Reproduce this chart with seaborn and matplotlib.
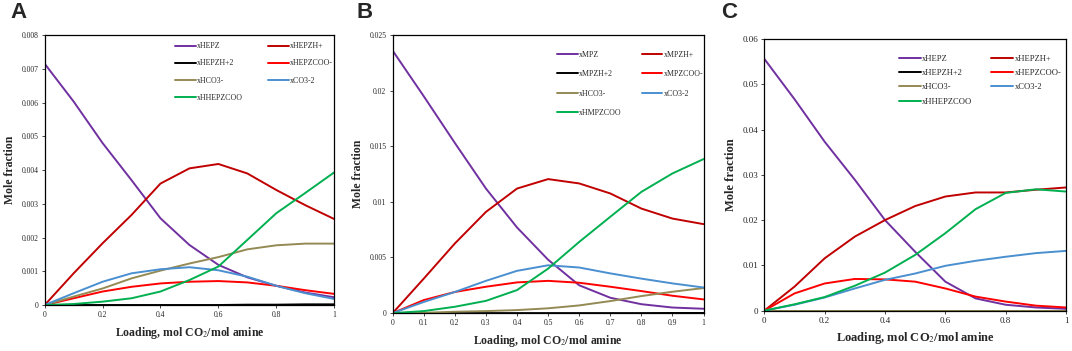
import numpy as np
import pandas as pd
import matplotlib.pyplot as plt
import seaborn as sns

# loading, mol CO2 / mol amine
loading = [0.0, 0.1, 0.2, 0.3, 0.4, 0.5, 0.6, 0.7, 0.8, 0.9, 1.0]

# Panel A (HEPZ)
a_labels = ['xHEPZ', 'xHEPZH+', 'xHEPZH+2', 'xHEPZCOO-', 'xHCO3-', 'xCO3-2', 'xHHEPZCOO']
a_amine = [0.00715, 0.00603, 0.0048, 0.0037, 0.00257, 0.00178, 0.00119, 0.00082, 0.00057, 0.00037, 0.00023]
a_amineh = [0.0, 0.00094, 0.00183, 0.00267, 0.0036, 0.00405, 0.00418, 0.0039, 0.00341, 0.00296, 0.00255]
a_amineh2 = [0.0, 0.0, 0.0, 0.0, 0.0, 0.0, 0.0, 0.00001, 0.00001, 0.00002, 0.00002]
a_carb = [0.0, 0.0002, 0.0004, 0.00054, 0.00064, 0.00069, 0.00071, 0.00067, 0.00057, 0.00044, 0.00033]
a_hco3 = [0.0, 0.00025, 0.00049, 0.00079, 0.00102, 0.00123, 0.00142, 0.00165, 0.00177, 0.00182, 0.00182]
a_co3 = [0.0, 0.00035, 0.00069, 0.00094, 0.00106, 0.00112, 0.00103, 0.00084, 0.00057, 0.00035, 0.00018]
a_hcarb = [0.0, 0.00003, 0.0001, 0.0002, 0.0004, 0.00074, 0.00114, 0.00193, 0.00272, 0.00332, 0.00393]

# Panel B (MPZ)
b_labels = ['xMPZ', 'xMPZH+', 'xMPZH+2', 'xMPZCOO-', 'xHCO3-', 'xCO3-2', 'xHMPZCOO']
b_amine = [0.0236, 0.0195, 0.0153, 0.0112, 0.0077, 0.0048, 0.0025, 0.00138, 0.0008, 0.0005, 0.00039]
b_amineh = [0.0, 0.0031, 0.00626, 0.0091, 0.0112, 0.01205, 0.01166, 0.01076, 0.0094, 0.0085, 0.0080]
b_amineh2 = [0.0, 0.0, 0.0, 0.0, 0.0, 0.0, 0.0, 0.0, 0.0, 0.00001, 0.00001]
b_carb = [0.0, 0.00117, 0.0019, 0.00237, 0.00276, 0.0029, 0.00273, 0.00237, 0.00198, 0.00156, 0.00123]
b_hco3 = [0.0, 0.00003, 0.00012, 0.00018, 0.00027, 0.00043, 0.00069, 0.00108, 0.00153, 0.00192, 0.00225]
b_co3 = [0.0, 0.0010, 0.0019, 0.0029, 0.0038, 0.0043, 0.0041, 0.00357, 0.0031, 0.00267, 0.0023]
b_hcarb = [0.0, 0.00018, 0.00057, 0.0011, 0.00207, 0.0040, 0.0064, 0.00866, 0.0109, 0.01256, 0.01385]

# Panel C (HEPZ, higher concentration)
c_labels = ['xHEPZ', 'xHEPZH+', 'xHEPZH+2', 'xHEPZCOO-', 'xHCO3-', 'xCO3-2', 'xHHEPZCOO']
c_amine = [0.0556, 0.0467, 0.0373, 0.0289, 0.0200, 0.0130, 0.0064, 0.0027, 0.0013, 0.0007, 0.0004]
c_amineh = [0.0, 0.0053, 0.01156, 0.01635, 0.0200, 0.0231, 0.0252, 0.0261, 0.0261, 0.0267, 0.0272]
c_amineh2 = [0.0, 0.0, 0.0, 0.0, 0.0, 0.0, 0.0, 0.0, 0.0, 0.0, 0.0]
c_carb = [0.0, 0.0038, 0.0060, 0.0070, 0.0069, 0.0064, 0.0049, 0.0031, 0.0020, 0.0011, 0.0007]
c_hco3 = [0.0, 0.0, 0.0, 0.0, 0.0, 0.0, 0.0, 0.0, 0.0, 0.0, 0.0]
c_co3 = [0.0, 0.0013, 0.0029, 0.0049, 0.0068, 0.0082, 0.0099, 0.0110, 0.0119, 0.0127, 0.0132]
c_hcarb = [0.0, 0.0014, 0.0030, 0.0055, 0.0084, 0.0123, 0.0171, 0.0224, 0.0260, 0.0268, 0.0263]

colors = ['#7030A0', '#C00000', '#000000', '#FF0000', '#948A54', '#4A8FD0', '#00B050']

sns.set_style("white")
plt.rcParams['font.family'] = ['Liberation Serif', 'DejaVu Serif']
plt.rcParams['mathtext.fontset'] = 'stix'

fig = plt.figure(figsize=(10.72, 3.51), dpi=100)


def draw_panel(rect, labels, series, ymax, ystep, xstep, letter, letter_xy, fs, lab_fs, leg):
    ax = fig.add_axes(rect)
    rows = []
    for lab, vals in zip(labels, series):
        for x, y in zip(loading, vals):
            rows.append({'loading': x, 'fraction': y, 'species': lab})
    df = pd.DataFrame(rows)
    sns.lineplot(data=df, x='loading', y='fraction', hue='species', hue_order=labels,
                 palette=colors, linewidth=1.4, ax=ax, legend=True, sort=True)
    ax.set_xlim(0, 1)
    ax.set_ylim(0, ymax)
    ax.set_xticks(np.arange(0, 1.0001, xstep))
    ax.set_yticks(np.arange(0, ymax + 1e-9, ystep))
    ax.xaxis.set_major_formatter(plt.FuncFormatter(lambda v, p: '%g' % round(v, 3)))
    ax.yaxis.set_major_formatter(plt.FuncFormatter(lambda v, p: '%g' % round(v, 4)))
    ax.tick_params(axis='both', direction='out', length=2.5, width=0.6, labelsize=fs, pad=2,
                   bottom=True, left=True)
    for s in ax.spines.values():
        s.set_color('black')
        s.set_linewidth(0.9)
    ax.set_xlabel('Loading, mol CO$_2$/mol amine', fontsize=lab_fs, fontweight='bold', labelpad=4)
    ax.set_ylabel('Mole fraction', fontsize=lab_fs, fontweight='bold', labelpad=4)
    handles, labs = ax.get_legend_handles_labels()
    order = [0, 2, 4, 6, 1, 3, 5]
    ax.legend([handles[i] for i in order], [labs[i] for i in order], ncol=2, frameon=False,
              loc='upper left', bbox_to_anchor=leg['anchor'], fontsize=leg['fs'],
              handlelength=2.6, handletextpad=0.15, columnspacing=leg['colsp'],
              labelspacing=leg['labsp'], borderaxespad=0)
    fig.text(letter_xy[0], letter_xy[1], letter, fontsize=16, fontweight='bold',
             family='Liberation Sans', va='top', ha='left')
    return ax


draw_panel([0.0417, 0.131, 0.270, 0.769], a_labels,
           [a_amine, a_amineh, a_amineh2, a_carb, a_hco3, a_co3, a_hcarb],
           0.008, 0.001, 0.2, 'A', (0.010, 0.995), 5.5, 8.5,
           {'anchor': (0.44, 0.985), 'fs': 5.7, 'colsp': 3.2, 'labsp': 1.15})
draw_panel([0.3663, 0.108, 0.290, 0.792], b_labels,
           [b_amine, b_amineh, b_amineh2, b_carb, b_hco3, b_co3, b_hcarb],
           0.025, 0.005, 0.1, 'B', (0.333, 0.995), 5.5, 8.5,
           {'anchor': (0.52, 0.955), 'fs': 5.7, 'colsp': 2.5, 'labsp': 1.45})
draw_panel([0.713, 0.115, 0.2814, 0.774], c_labels,
           [c_amine, c_amineh, c_amineh2, c_carb, c_hco3, c_co3, c_hcarb],
           0.06, 0.01, 0.2, 'C', (0.673, 0.995), 6.5, 9.0,
           {'anchor': (0.435, 0.955), 'fs': 6.1, 'colsp': 2.2, 'labsp': 0.75})

fig.savefig('out.png', dpi=100)
